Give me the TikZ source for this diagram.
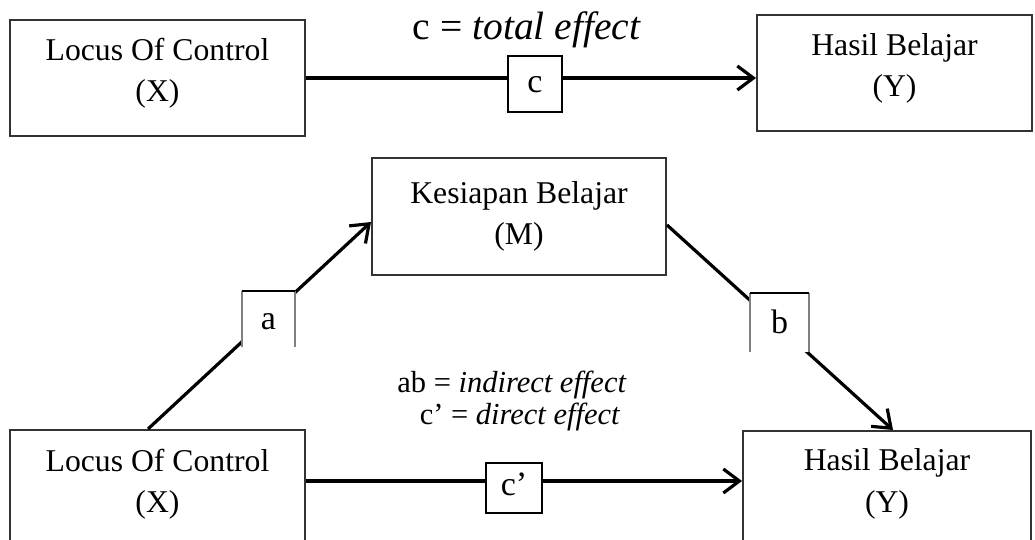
\documentclass[tikz,border=0pt]{standalone}
\usepackage{fontspec}
\setmainfont{Liberation Serif}
\usetikzlibrary{arrows.meta}
\begin{document}
\begin{tikzpicture}[x=1pt,y=-1pt,
  varbox/.style={draw=black!80,line width=2pt,minimum width=#1,minimum height=116pt,inner sep=0pt},
  boxtext/.style={align=center,inner sep=0pt,font=\fontsize{31.7}{41.5}\selectfont},
  arr/.style={line width=3.2pt,-{Straight Barb[length=16pt,width=24pt]}},
  lbl/.style={fill=white,inner sep=0pt,text depth=0pt,font=\fontsize{34}{40}\selectfont},
  lblside/.style={draw=black!50,line width=1.5pt},
  lbltop/.style={draw=black,line width=2.2pt},
  note/.style={inner sep=0pt,font=\fontsize{30.5}{36}\selectfont}
]
\useasboundingbox (0,0) rectangle (1035,540);

% boxes
\node[varbox=295pt] (X1) at (157.5,78) {};
\node[varbox=275pt] (Y1) at (894.5,73) {};
\node[varbox=294pt,minimum height=117pt] (M) at (519,216.5) {};
\node[varbox=295pt] (X2) at (157.5,488) {};
\node[varbox=288pt] (Y2) at (887,489) {};

\node[boxtext] (X1t) at ([yshift=5pt]X1.center) {Locus Of Control\\(X)};
\node[boxtext] (Y1t) at ([yshift=4.5pt]Y1.center) {Hasil Belajar\\(Y)};
\node[boxtext] (Mt) at ([yshift=0pt]M.center) {Kesiapan Belajar\\(M)};
\node[boxtext] (X2t) at ([yshift=4pt]X2.center) {Locus Of Control\\(X)};
\node[boxtext] (Y2t) at ([yshift=5pt]Y2.center) {Hasil Belajar\\(Y)};

% connectors
\draw[arr] (X1.east) -- (X1.east -| Y1.west);
\coordinate (x2e) at ([yshift=7pt]X2.east);
\draw[arr] (x2e) -- (x2e -| Y2.west);
\draw[arr] ([xshift=-9.5pt]X2.north) -- ([yshift=-5.5pt]M.west);
\draw[arr] ([yshift=-8.5pt]M.east) -- ([xshift=6pt]Y2.north);

% path labels
\node[lbl,text height=17pt,draw=black,line width=1.8pt,minimum width=54pt,minimum height=56pt] (lc) at (535,84) {c};
\node[lbl,text height=15pt,draw=black,line width=1.8pt,minimum width=56pt,minimum height=50pt] (lcp) at (514,488) {c’};

\node[lbl,text height=20pt,minimum width=53pt,minimum height=56pt] (la) at (268.5,319) {a};
\draw[lblside] (la.north west) -- (la.south west);
\draw[lblside] (la.north east) -- (la.south east);
\draw[lbltop] (la.north west) -- (la.north east);

\node[lbl,text height=21pt,minimum width=59pt,minimum height=59pt] (lb) at (779.5,322.5) {b};
\draw[lblside] (lb.north west) -- (lb.south west);
\draw[lblside] (lb.north east) -- (lb.south east);
\draw[lbltop] (lb.north west) -- (lb.north east);

% annotations
\node[inner sep=0pt,font=\fontsize{39.5}{44}\selectfont] (tot) at (527,30) {c = \textit{total effect}};
\node[note] (ind) at (512,385) {ab = \textit{indirect effect}};
\node[note] (dir) at (520,417) {c’ = \textit{direct effect}};
\end{tikzpicture}
\end{document}
